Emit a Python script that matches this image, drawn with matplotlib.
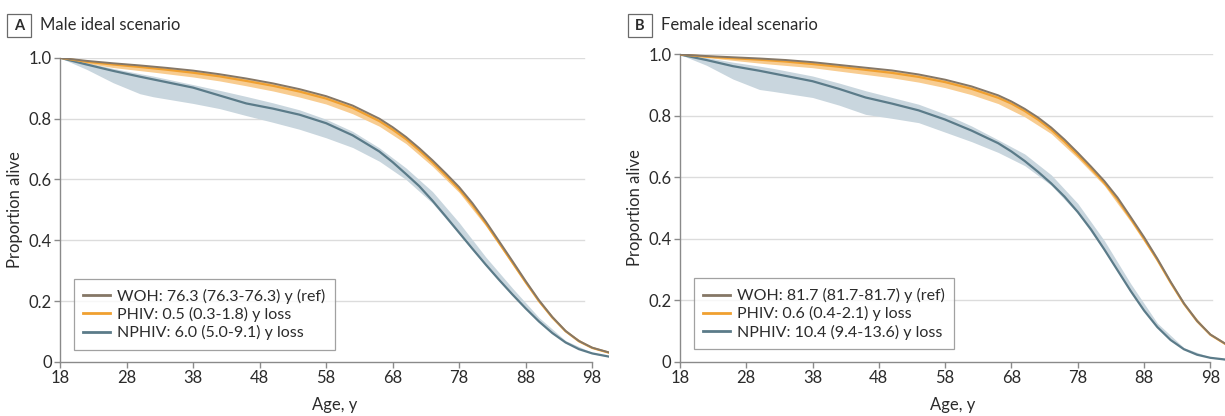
import numpy as np
import matplotlib
matplotlib.use("Agg")
import matplotlib.pyplot as plt
from matplotlib.patches import Rectangle

plt.rcParams['font.family'] = ['Lato', 'DejaVu Sans']

# ---- data ----
ages = [18, 22, 26, 30, 34, 38, 42, 46, 50, 54, 58, 62, 66, 68, 70, 72, 74, 76, 78,
        80, 82, 84, 86, 88, 90, 92, 94, 96, 98, 100.4]
band_ages = [18, 22, 26, 30, 32, 38, 42, 46, 50, 54, 58, 62, 66, 70, 74, 78,
             82, 86, 90, 94, 98, 100.4]

# male
m_woh = [1.0, 0.99, 0.982, 0.975, 0.967, 0.958, 0.946, 0.932, 0.916, 0.897, 0.874,
         0.843, 0.80, 0.772, 0.74, 0.703, 0.663, 0.62, 0.575, 0.522, 0.462, 0.397,
         0.332, 0.266, 0.203, 0.148, 0.102, 0.069, 0.047, 0.032]
m_phiv = [1.0, 0.987, 0.978, 0.97, 0.961, 0.951, 0.939, 0.924, 0.908, 0.889, 0.866,
          0.835, 0.792, 0.764, 0.733, 0.696, 0.656, 0.613, 0.568, 0.516, 0.456, 0.392,
          0.327, 0.262, 0.2, 0.146, 0.101, 0.068, 0.046, 0.031]
m_nphiv = [1.0, 0.978, 0.957, 0.938, 0.92, 0.902, 0.876, 0.85, 0.833, 0.813, 0.785,
           0.745, 0.692, 0.657, 0.618, 0.578, 0.53, 0.478, 0.425, 0.372, 0.32, 0.27,
           0.222, 0.176, 0.133, 0.095, 0.064, 0.042, 0.028, 0.018]
m_phiv_lo = [1.0, 0.982, 0.968, 0.958, 0.953, 0.937, 0.924, 0.908, 0.891, 0.871, 0.848,
             0.816, 0.775, 0.718, 0.643, 0.557, 0.447, 0.32, 0.195, 0.098, 0.045, 0.03]
m_phiv_hi = [1.0, 0.99, 0.982, 0.975, 0.971, 0.958, 0.946, 0.932, 0.916, 0.897, 0.874,
             0.843, 0.80, 0.74, 0.663, 0.575, 0.462, 0.332, 0.203, 0.102, 0.047, 0.032]
m_nphiv_lo = [1.0, 0.962, 0.918, 0.882, 0.872, 0.85, 0.833, 0.81, 0.788, 0.765, 0.737,
              0.705, 0.66, 0.6, 0.522, 0.42, 0.316, 0.219, 0.13, 0.062, 0.027, 0.017]
m_nphiv_hi = [1.0, 0.985, 0.965, 0.948, 0.94, 0.912, 0.893, 0.873, 0.852, 0.829, 0.798,
              0.758, 0.704, 0.638, 0.56, 0.458, 0.345, 0.243, 0.146, 0.07, 0.031, 0.02]

# female
f_woh = [1.0, 0.995, 0.991, 0.987, 0.982, 0.975, 0.966, 0.957, 0.948, 0.935, 0.918,
         0.896, 0.867, 0.847, 0.823, 0.795, 0.762, 0.723, 0.68, 0.635, 0.588, 0.534,
         0.47, 0.405, 0.335, 0.26, 0.19, 0.132, 0.088, 0.056]
f_phiv = [1.0, 0.993, 0.988, 0.983, 0.977, 0.969, 0.96, 0.95, 0.94, 0.927, 0.91,
          0.888, 0.859, 0.84, 0.816, 0.788, 0.755, 0.716, 0.673, 0.629, 0.582, 0.528,
          0.465, 0.4, 0.331, 0.257, 0.188, 0.131, 0.087, 0.055]
f_nphiv = [1.0, 0.982, 0.962, 0.947, 0.93, 0.913, 0.888, 0.86, 0.84, 0.818, 0.788,
           0.752, 0.711, 0.684, 0.653, 0.618, 0.58, 0.537, 0.487, 0.43, 0.365, 0.297,
           0.229, 0.166, 0.112, 0.07, 0.04, 0.022, 0.012, 0.006]
f_phiv_lo = [1.0, 0.99, 0.981, 0.972, 0.968, 0.957, 0.946, 0.935, 0.924, 0.91, 0.892,
             0.869, 0.84, 0.797, 0.742, 0.662, 0.573, 0.455, 0.325, 0.183, 0.085, 0.054]
f_phiv_hi = [1.0, 0.995, 0.991, 0.987, 0.985, 0.975, 0.966, 0.957, 0.948, 0.935, 0.918,
             0.896, 0.867, 0.823, 0.762, 0.68, 0.588, 0.47, 0.335, 0.19, 0.088, 0.056]
f_nphiv_lo = [1.0, 0.965, 0.92, 0.886, 0.88, 0.86, 0.835, 0.805, 0.792, 0.778, 0.747,
              0.716, 0.681, 0.638, 0.574, 0.482, 0.361, 0.226, 0.11, 0.039, 0.011, 0.005]
f_nphiv_hi = [1.0, 0.99, 0.975, 0.962, 0.955, 0.93, 0.907, 0.882, 0.86, 0.838, 0.806,
              0.767, 0.722, 0.676, 0.608, 0.515, 0.394, 0.253, 0.125, 0.045, 0.014, 0.007]

m_labels = ["WOH: 76.3 (76.3-76.3) y (ref)", "PHIV: 0.5 (0.3-1.8) y loss",
            "NPHIV: 6.0 (5.0-9.1) y loss"]
f_labels = ["WOH: 81.7 (81.7-81.7) y (ref)", "PHIV: 0.6 (0.4-2.1) y loss",
            "NPHIV: 10.4 (9.4-13.6) y loss"]

xticks = [18, 28, 38, 48, 58, 68, 78, 88, 98]
yticks = [0, 0.2, 0.4, 0.6, 0.8, 1.0]
ytick_labels = ["0", "0.2", "0.4", "0.6", "0.8", "1.0"]

c_woh = "#857766"
c_phiv = "#f0a030"
c_nphiv = "#5b7b89"
c_phiv_band = "#f8cc90"
c_nphiv_band = "#c9d6de"
c_axis = "#8a8a8a"
c_text = "#2b2b2b"

fig = plt.figure(figsize=(12.25, 4.16), dpi=100)
axA = fig.add_axes([0.049, 0.130, 0.448, 0.731])
axB = fig.add_axes([0.555, 0.131, 0.445, 0.738])


def draw(ax, woh, phiv, nphiv, plo, phi, nlo, nhi, labels, grid_end, xend):
    for y in yticks[1:]:
        ax.plot([18, grid_end], [y, y], color="#dcdcdc", lw=1.0, zorder=0)
    ax.fill_between(band_ages, nlo, nhi, color=c_nphiv_band, lw=0, zorder=1)
    ax.fill_between(band_ages, plo, phi, color=c_phiv_band, lw=0, zorder=1)
    l3, = ax.plot(ages, nphiv, color=c_nphiv, lw=1.6, zorder=3, label=labels[2])
    l2, = ax.plot(ages, phiv, color=c_phiv, lw=1.6, zorder=3, label=labels[1])
    l1, = ax.plot(ages, woh, color=c_woh, lw=1.4, zorder=4, label=labels[0])
    ax.set_xlim(18, xend)
    ax.set_ylim(0, 1.0)
    ax.set_xticks(xticks)
    ax.set_yticks(yticks)
    ax.set_yticklabels(ytick_labels)
    for s in ["top", "right"]:
        ax.spines[s].set_visible(False)
    for s in ["left", "bottom"]:
        ax.spines[s].set_color(c_axis)
        ax.spines[s].set_linewidth(1.0)
    ax.spines["bottom"].set_bounds(18, 98)
    ax.tick_params(axis="both", colors=c_axis, labelcolor=c_text, labelsize=12,
                   length=4, width=1.0, direction="out", pad=2)
    ax.set_xlabel("Age, y", fontsize=12, color=c_text, labelpad=8)
    ax.set_ylabel("Proportion alive", fontsize=12, color=c_text, labelpad=4)
    leg = ax.legend(handles=[l1, l2, l3], loc="lower left", bbox_to_anchor=(0.025, 0.04),
                    fontsize=11.5, frameon=True, fancybox=False, handlelength=1.7,
                    handletextpad=0.4, labelspacing=0.2, borderpad=0.6,
                    borderaxespad=0)
    leg.get_frame().set_edgecolor("#8a8a8a")
    leg.get_frame().set_linewidth(0.9)
    for t in leg.get_texts():
        t.set_color(c_text)
    for ln in leg.get_lines():
        ln.set_linewidth(2.0)
    return ax


draw(axA, m_woh, m_phiv, m_nphiv, m_phiv_lo, m_phiv_hi, m_nphiv_lo, m_nphiv_hi,
     m_labels, 96.8, 100.5)
draw(axB, f_woh, f_phiv, f_nphiv, f_phiv_lo, f_phiv_hi, f_nphiv_lo, f_nphiv_hi,
     f_labels, 98.2, 100.2)

# panel letters and titles
for x0, letter, title in [(7, "A", "Male ideal scenario"), (628, "B", "Female ideal scenario")]:
    fig.patches.append(Rectangle((x0 / 1225, 1 - 37 / 416), 24 / 1225, 23 / 416,
                                 transform=fig.transFigure, fill=False,
                                 edgecolor="#6a6a6a", lw=0.9))
    fig.text((x0 + 12) / 1225, 1 - 25.5 / 416, letter, ha="center", va="center",
             fontsize=10.5, fontweight="bold", color=c_text)
    fig.text((x0 + 33) / 1225, 1 - 25.5 / 416, title, ha="left", va="center",
             fontsize=12, color=c_text)

fig.savefig("out.png", dpi=100)
